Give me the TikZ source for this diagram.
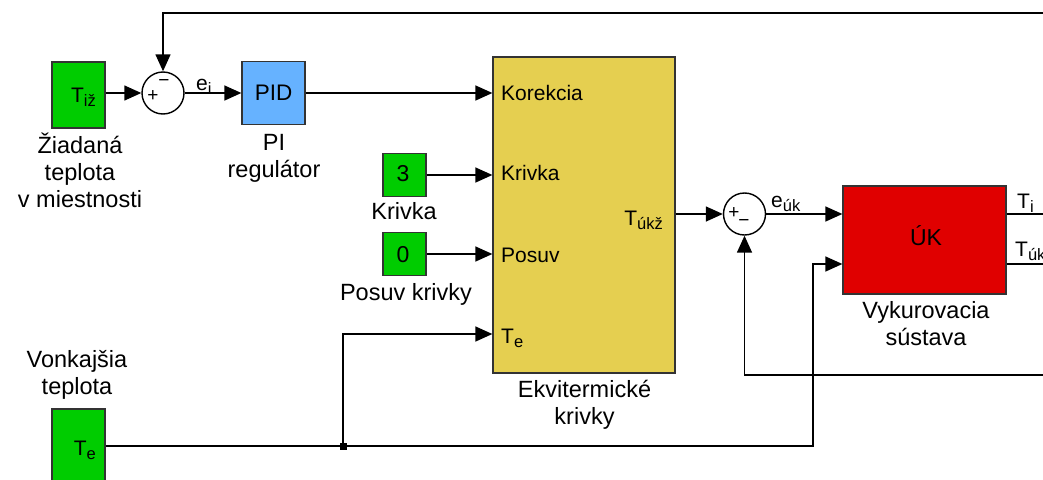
\documentclass[tikz,border=0pt]{standalone}
\usepackage{fontspec}
\setmainfont{Liberation Sans}
\usetikzlibrary{arrows.meta}
\definecolor{blkgreen}{RGB}{0,204,0}
\definecolor{blkblue}{RGB}{102,178,255}
\definecolor{blkyellow}{RGB}{229,207,80}
\definecolor{blkred}{RGB}{224,0,0}
\newcommand{\fsz}[1]{\fontsize{#1}{#1}\selectfont}
\newcommand{\lowidx}[1]{\raisebox{-4.5pt}{\fontsize{16.5}{16.5}\selectfont #1}}
\tikzset{
  block/.style={draw=black!80, line width=1.3pt, inner sep=0pt},
  sumnode/.style={circle, draw=black, line width=1.4pt, minimum size=42pt, inner sep=0pt},
  wire/.style={line width=1.5pt},
  sig/.style={line width=1.5pt, -{Triangle[length=17pt,width=15pt]}},
  lbl/.style={inner sep=0pt, font=\fsz{21}},
  sgn/.style={inner sep=0pt, font=\fsz{19}},
  captxt/.style={inner sep=0pt, align=center, anchor=base, font=\fontsize{23.5}{27}\selectfont},
  junc/.style={fill=black, minimum size=7pt, inner sep=0pt},
}
\begin{document}
\begin{tikzpicture}[x=1pt,y=-1pt]
\useasboundingbox (0,0) rectangle (1043,479);

% blocks
\node[block, fill=blkgreen, minimum width=53pt, minimum height=66pt] (tiz) at (78.5,95) {};
\node[block, fill=blkblue, minimum width=63pt, minimum height=63pt] (pid) at (273.5,93) {};
\node[block, fill=blkyellow, minimum width=182pt, minimum height=316pt] (ekv) at (584,215) {};
\node[block, fill=blkgreen, minimum width=43pt, minimum height=43pt] (kriv) at (404.5,175) {};
\node[block, fill=blkgreen, minimum width=43pt, minimum height=43pt] (posun) at (404.5,254) {};
\node[block, fill=blkred, minimum width=163pt, minimum height=108pt] (uk) at (924.5,240) {};
\node[block, fill=blkgreen, minimum width=53pt, minimum height=74pt] (te) at (78.5,446) {};
\node[sumnode] (s1) at (163,93) {};
\node[sumnode] (s2) at (744.5,214) {};

% texts inside blocks
\node[lbl, font=\fsz{22.5}, anchor=base] (pidtxt) at (273.5,100) {PID};
\node[lbl, font=\fsz{23}, anchor=base] (uktxt) at (926,245) {ÚK};
\node[lbl, font=\fsz{23}, anchor=base] (krivtxt) at (403,181) {3};
\node[lbl, font=\fsz{23}, anchor=base] (posuntxt) at (403,262) {0};
\node[lbl, anchor=base east] (tiztxt) at (96,102) {T\lowidx{iž}};
\node[lbl, anchor=base east] (tetxt) at (96,455) {T\lowidx{e}};
\node[lbl, anchor=base west] (pKor) at (501,100) {Korekcia};
\node[lbl, anchor=base west] (pKriv) at (501,180) {Krivka};
\node[lbl, anchor=base west] (pPos) at (501,262) {Posuv};
\node[lbl, anchor=base west] (pTe) at (501,343) {T\lowidx{e}};
\node[lbl, anchor=base east] (pTukz) at (663,225) {T\lowidx{úkž}};
\node[lbl, anchor=base west] (pTi) at (1017,208) {T\lowidx{i}};
\node[lbl, anchor=base west] (pTuk) at (1015,256) {T\lowidx{úk}};

% signal names
\node[lbl, anchor=base west] (ei) at (196,90) {e\lowidx{i}};
\node[lbl, anchor=base west] (euk) at (771,207) {e\lowidx{úk}};

% summation signs
\node[sgn] (s1p) at (153,96) {+};
\node[sgn] (s1m) at (164,83) {−};
\node[sgn] (s2p) at (734,213) {+};
\node[sgn] (s2m) at (744,223) {−};

% captions (anchored at the baseline of their last line)
\node[captxt] (capTiz) at (80,207) {Žiadaná\\teplota\\v miestnosti};
\node[captxt] (capPid) at (274,177) {PI\\regulátor};
\node[captxt] (capKriv) at (404,219) {Krivka};
\node[captxt] (capPos) at (406,300) {Posuv krivky};
\node[captxt] (capEkv) at (584.5,424) {Ekvitermické\\krivky};
\node[captxt] (capUk) at (926,345) {Vykurovacia\\sústava};
\node[captxt] (capTe) at (77,394) {Vonkajšia\\teplota};

% helper coordinates
\coordinate (yTe) at (0,334);
\coordinate (yU2) at (0,264);
\coordinate (j) at (343,446);
\coordinate (bend) at (813,446);
\coordinate (outTi) at (1050,214);
\coordinate (outTuk) at (1050,264);
\coordinate (fbTop) at (1050,13);
\coordinate (fbBot) at (1050,375);

% connections
\draw[sig] (s1.west -| tiz.east) -- (s1.west);
\draw[sig] (s1.east) -- (s1.east -| pid.west);
\draw[sig] (pid.east) -- (pid.east -| ekv.west);
\draw[sig] (kriv.east) -- (kriv.east -| ekv.west);
\draw[sig] (posun.east) -- (posun.east -| ekv.west);
\draw[sig] (s2.west -| ekv.east) -- (s2.west);
\draw[sig] (s2.east) -- (s2.east -| uk.west);
\draw[wire] (te.east) -- (j);
\draw[sig] (j) |- (ekv.west |- yTe);
\draw[sig] (j) -- (bend) |- (uk.west |- yU2);
\node[junc] (jdot) at (j) {};
\draw[wire] (uk.east |- outTi) -- (outTi);
\draw[wire] (uk.east |- outTuk) -- (outTuk);
\draw[sig] (fbTop) -| (s1.north);
\draw[sig] (fbBot) -| (s2.south);
\end{tikzpicture}
\end{document}
